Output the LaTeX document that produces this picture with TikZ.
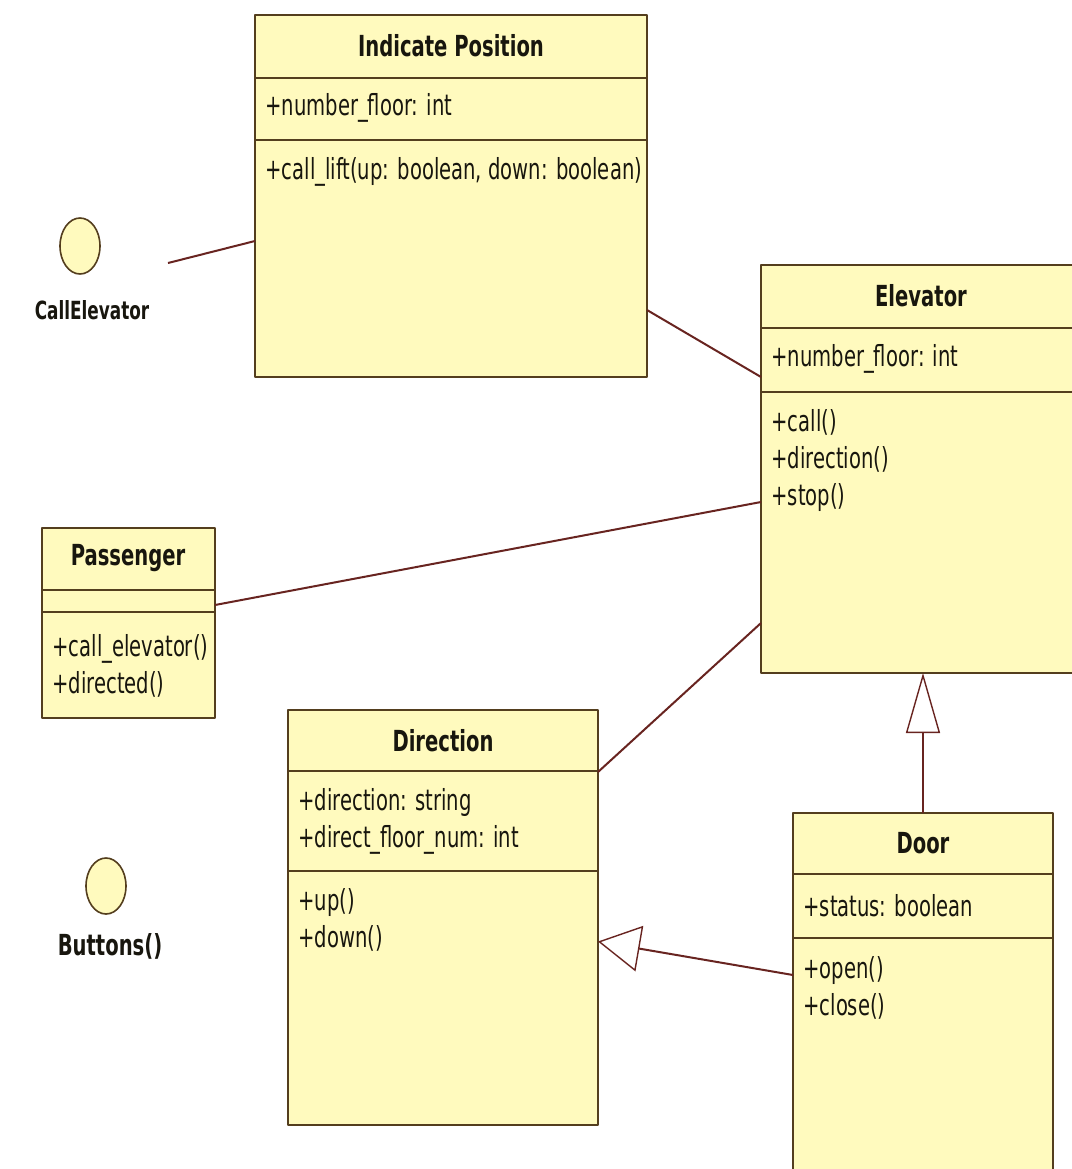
\documentclass[tikz,border=0pt]{standalone}
\usepackage{fontspec}
\setmainfont[FakeStretch=0.675]{DejaVu Sans}
\usetikzlibrary{arrows.meta,shapes.geometric}
\definecolor{classfill}{RGB}{255,250,190}
\definecolor{classdraw}{RGB}{84,62,30}
\definecolor{linkdraw}{RGB}{104,36,32}
\definecolor{classtext}{RGB}{24,22,14}
\begin{document}
\begin{tikzpicture}[x=0.5pt,y=-0.5pt,line join=bevel,
  classbox/.style={draw=classdraw,fill=classfill,line width=1.1pt,anchor=north west,inner sep=0pt,outer sep=0pt},
  classrule/.style={draw=classdraw,line width=1.1pt},
  classname/.style={text=classtext,inner sep=0pt,font=\fontsize{14.5pt}{18.5pt}\selectfont\bfseries},
  member/.style={text=classtext,inner sep=0pt,anchor=west,align=left,font=\fontsize{14.5pt}{18.5pt}\selectfont},
  iface/.style={ellipse,draw=classdraw,fill=classfill,line width=0.8pt,minimum width=20pt,minimum height=28pt,inner sep=0pt},
  assoc/.style={draw=linkdraw,line width=1pt},
  genup/.style={assoc,-{Triangle[open,length=30pt,width=17pt,line width=0.7pt]}},
  genleft/.style={assoc,-{Triangle[open,length=21pt,width=23pt,line width=0.7pt]}}]
%%
\useasboundingbox (0,0) rectangle (1072,1169);
\fill[white] (0,0) rectangle (1072,1169);
\begin{scope}
\clip (0,0) rectangle (1072,1169);
  \node (ipos) at (255,15) [classbox,minimum width=196pt,minimum height=181pt] {};
  \draw[classrule] (ipos.west |- 0,78) -- (ipos.east |- 0,78);
  \draw[classrule] (ipos.west |- 0,140) -- (ipos.east |- 0,140);
  \node (ipos_name) at (451,46) [classname] {Indicate Position};
  \node (ipos_attr) at (265,108) [member] {+number\_floor: int};
  \node (ipos_ops) at (265,172) [member] {+call\_lift(up: boolean, down: boolean)};
  \node (elev) at (761,265) [classbox,minimum width=160.5pt,minimum height=204pt] {};
  \draw[classrule] (elev.west |- 0,328) -- (elev.east |- 0,328);
  \draw[classrule] (elev.west |- 0,392) -- (elev.east |- 0,392);
  \node (elev_name) at (921,296) [classname] {Elevator};
  \node (elev_attr) at (771,359) [member] {+number\_floor: int};
  \node (elev_ops) at (771,460) [member] {+call()\\+direction()\\+stop()};
  \node (pass) at (42,528) [classbox,minimum width=86.5pt,minimum height=95pt] {};
  \draw[classrule] (pass.west |- 0,590) -- (pass.east |- 0,590);
  \draw[classrule] (pass.west |- 0,612) -- (pass.east |- 0,612);
  \node (pass_name) at (128,558) [classname] {Passenger};
  \node (pass_ops) at (52,666) [member] {+call\_elevator()\\+directed()};
  \node (dir) at (288,710) [classbox,minimum width=155pt,minimum height=207.5pt] {};
  \draw[classrule] (dir.west |- 0,771) -- (dir.east |- 0,771);
  \draw[classrule] (dir.west |- 0,871) -- (dir.east |- 0,871);
  \node (dir_name) at (443,741) [classname] {Direction};
  \node (dir_attr) at (298,821) [member] {+direction: string\\+direct\_floor\_num: int};
  \node (dir_ops) at (298,920) [member] {+up()\\+down()};
  \node (door) at (793,813) [classbox,minimum width=130pt,minimum height=190pt] {};
  \draw[classrule] (door.west |- 0,874) -- (door.east |- 0,874);
  \draw[classrule] (door.west |- 0,938) -- (door.east |- 0,938);
  \node (door_name) at (923,843) [classname] {Door};
  \node (door_attr) at (803,906) [member] {+status: boolean};
  \node (door_ops) at (803,988) [member] {+open()\\+close()};
  \node (callelev) at (80,246) [iface] {};
  \node (callelev_name) at (92,310) [classname,font=\fontsize{12.5pt}{15pt}\selectfont\bfseries] {CallElevator};
  \node (buttons) at (106,886) [iface] {};
  \node (buttons_name) at (110,946) [classname] {Buttons()};
  \coordinate (callend) at (168,263);
  \draw[assoc] (callend) -- ([yshift=-22.5pt]ipos.west);
  \draw[assoc] ([yshift=-57pt]ipos.east) -- ([yshift=46pt]elev.west);
  \draw[assoc] ([yshift=9pt]pass.east) -- ([yshift=-16.5pt]elev.west);
  \draw[assoc] ([yshift=-31pt]dir.north east) -- ([yshift=-77pt]elev.west);
  \draw[genup] (door.north) -- (door.north |- elev.south);
  \draw[genleft] ([yshift=-81pt]door.north west) -- ([yshift=-12pt]dir.east);
\end{scope}
%
\end{tikzpicture}
\end{document}
